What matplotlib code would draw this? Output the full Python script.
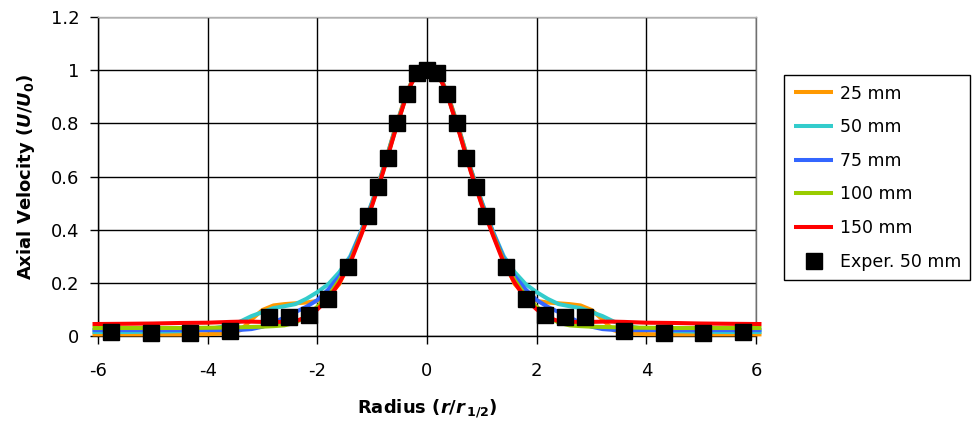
import numpy as np
import matplotlib.pyplot as plt

plt.rcParams['font.family'] = ['DejaVu Sans']
plt.rcParams['axes.unicode_minus'] = False
plt.rcParams['mathtext.fontset'] = 'custom'
plt.rcParams['mathtext.rm'] = 'DejaVu Sans:bold'
plt.rcParams['mathtext.it'] = 'DejaVu Sans:bold:italic'
plt.rcParams['mathtext.bf'] = 'DejaVu Sans:bold'

# half profiles (r/r1/2 >= 0), mirrored to the negative side
x_half = [0, 0.1, 0.2, 0.3, 0.4, 0.6, 0.8, 1.0, 1.2, 1.4, 1.6, 1.8, 2.0, 2.2,
          2.4, 2.6, 2.8, 3.0, 3.2, 3.4, 3.6, 4.0, 4.5, 5.0, 5.5, 6.1]

u_25 = [1.0, 0.996, 0.985, 0.948, 0.897, 0.768, 0.628, 0.502, 0.388, 0.285, 0.195,
        0.150, 0.132, 0.126, 0.123, 0.120, 0.115, 0.098, 0.062, 0.022, 0.010,
        0.007, 0.006, 0.006, 0.006, 0.006]
u_50 = [1.0, 0.995, 0.983, 0.946, 0.893, 0.765, 0.627, 0.505, 0.395, 0.300, 0.240,
        0.195, 0.165, 0.140, 0.120, 0.112, 0.105, 0.090, 0.075, 0.055, 0.040,
        0.025, 0.018, 0.016, 0.015, 0.015]
u_75 = [1.0, 0.995, 0.983, 0.945, 0.892, 0.763, 0.624, 0.500, 0.392, 0.292, 0.225,
        0.175, 0.135, 0.110, 0.090, 0.070, 0.050, 0.035, 0.026, 0.023, 0.022,
        0.022, 0.022, 0.022, 0.022, 0.022]
u_100 = [1.0, 0.995, 0.982, 0.944, 0.890, 0.760, 0.620, 0.495, 0.385, 0.282, 0.210,
         0.150, 0.110, 0.075, 0.050, 0.040, 0.037, 0.035, 0.034, 0.033, 0.032,
         0.031, 0.030, 0.030, 0.030, 0.030]
u_150 = [1.0, 0.995, 0.982, 0.943, 0.888, 0.757, 0.617, 0.492, 0.380, 0.275, 0.200,
         0.140, 0.100, 0.070, 0.056, 0.053, 0.053, 0.053, 0.054, 0.054, 0.053,
         0.050, 0.049, 0.047, 0.046, 0.045]

series = [('25 mm', u_25, '#FF9900'),
          ('50 mm', u_50, '#33CCCC'),
          ('75 mm', u_75, '#3366FF'),
          ('100 mm', u_100, '#99CC00'),
          ('150 mm', u_150, '#FF0000')]

# experiment, 50 mm
x_exp = [-5.76, -5.04, -4.32, -3.6, -2.88, -2.52, -2.16, -1.8, -1.44, -1.08, -0.9,
         -0.72, -0.54, -0.36, -0.18, 0.0, 0.18, 0.36, 0.54, 0.72, 0.9, 1.08, 1.44,
         1.8, 2.16, 2.52, 2.88, 3.6, 4.32, 5.04, 5.76]
u_exp = [0.015, 0.01, 0.01, 0.02, 0.07, 0.07, 0.08, 0.14, 0.26, 0.45, 0.56,
         0.67, 0.80, 0.91, 0.99, 1.0, 0.99, 0.91, 0.80, 0.67, 0.56, 0.45, 0.26,
         0.14, 0.08, 0.07, 0.07, 0.02, 0.01, 0.01, 0.015]

fig = plt.figure(figsize=(9.76, 4.25), dpi=100)
ax = fig.add_axes([98 / 976, 89 / 425, 658 / 976, 319 / 425])

xh = np.array(x_half)
x_full = np.concatenate([-xh[::-1], xh[1:]])
for label, u, col in series:
    uh = np.array(u)
    u_full = np.concatenate([uh[::-1], uh[1:]])
    ax.plot(x_full, u_full, color=col, lw=2.9, label=label, clip_on=False,
            solid_capstyle='butt', zorder=3)

ax.plot(x_exp, u_exp, 's', color='black', ms=11.5, label='Exper. 50 mm',
        zorder=4, clip_on=False)

ax.set_xlim(-6, 6)
ax.set_ylim(0, 1.2)
ax.set_xticks(np.arange(-6, 7, 2))
ax.set_yticks(np.arange(0, 1.21, 0.2))
ax.set_yticklabels(['0', '0.2', '0.4', '0.6', '0.8', '1', '1.2'])
ax.grid(True, color='black', lw=1.0)
ax.set_axisbelow(True)
ax.tick_params(labelsize=13, length=5.5, width=1.0, color='black')
ax.tick_params(axis='x', pad=13)
ax.tick_params(axis='y', pad=8)

ax.spines['left'].set_color('black')
ax.spines['bottom'].set_color('black')
ax.spines['top'].set_color('#b0b0b0')
ax.spines['right'].set_color('#707070')
for s in ax.spines.values():
    s.set_linewidth(1.0)

ax.set_xlabel(r'Radius $(r/r_{\,1/2})$', fontsize=13, fontweight='bold', labelpad=13)
ax.set_ylabel(r'Axial Velocity $(U/U_0)$', fontsize=13, fontweight='bold', labelpad=10)

leg = ax.legend(loc='upper left', bbox_to_anchor=(784 / 976, 350 / 425),
                bbox_transform=fig.transFigure, borderaxespad=0, fontsize=12.5,
                frameon=True, fancybox=False, edgecolor='black', framealpha=1,
                handlelength=2.3, handletextpad=0.35, labelspacing=0.9,
                borderpad=0.55)
leg.get_frame().set_linewidth(1.0)

fig.savefig('out.png', dpi=100)
